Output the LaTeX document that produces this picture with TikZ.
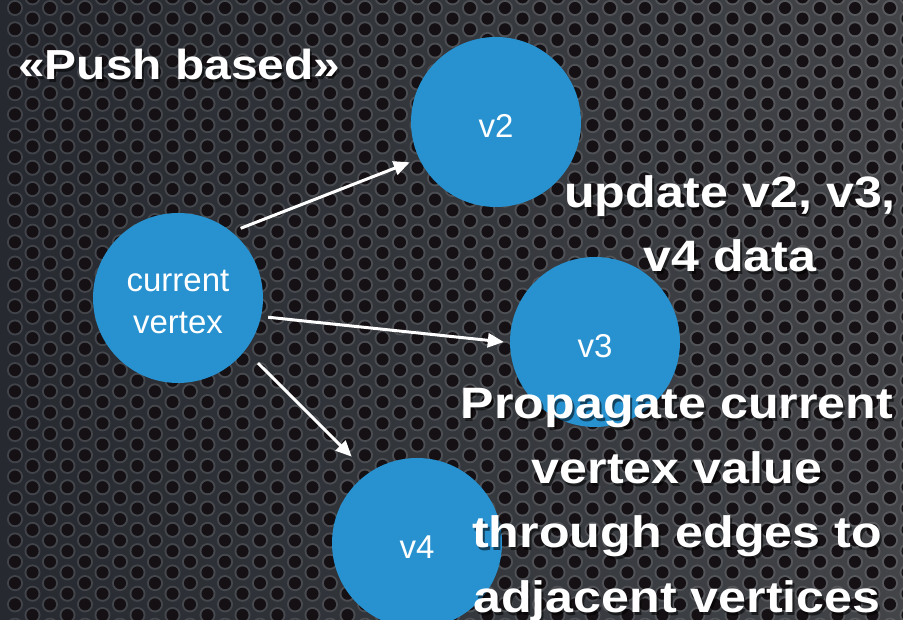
\documentclass[tikz,border=0pt]{standalone}
\usepackage{fontspec}
\setmainfont{Liberation Sans}
\newfontfamily\headfont{Liberation Sans Bold}[FakeStretch=1.14]
\usetikzlibrary{arrows.meta}
\definecolor{vblue}{RGB}{40,146,208}
\definecolor{holec}{RGB}{21,16,19}
\definecolor{metalL}{RGB}{38,42,48}
\definecolor{metalR}{RGB}{66,68,72}
\begin{document}
\begin{tikzpicture}[x=1pt,y=1pt,
  vertex/.style={circle, fill=vblue, minimum size=170pt, inner sep=0pt,
    text=white, align=center, text height=32pt,
    font=\fontsize{33}{42}\selectfont},
  edge/.style={white, line width=3pt, -{Triangle[length=16pt,width=14pt]}},
  headline/.style={text=white, align=center, inner sep=0pt,
    font=\headfont\fontsize{44}{64.5}\selectfont},
  headshadow/.style={headline, text=black, opacity=0.55},
  titlefont/.style={font=\headfont\fontsize{42}{48}\selectfont},
  rim/.style={white, opacity=0.12, line width=2pt},
  hole/.style={fill=holec},
]
\useasboundingbox (0,0) rectangle (903,620);

% perforated metal plate
\shade[left color=metalL, right color=metalR] (0,0) rectangle (903,620);
\foreach \k in {0,...,52} {
  \foreach \j in {-1,...,30} {
    \pgfmathsetmacro\hx{15+17.5*\k}
    \pgfmathsetmacro\hy{612-21.3*\j-10.65*mod(\k,2)}
    \draw[rim] (\hx,\hy) circle (7pt);
    \fill[hole] (\hx,\hy) circle (6pt);
  }
}

% vertices
\node[vertex, text height=72pt] (cur) at (178,322) {current\\vertex};
\node[vertex] (v2) at (496,498) {v2};
\node[vertex] (v3) at (595,278) {v3};
\node[vertex] (v4) at (417,77) {v4};

% pushed edges
\draw[edge] ([shift={(48.5:8.5pt)}]cur.48.5) -- ([shift={(205.5:10pt)}]v2.205.5);
\draw[edge] ([shift={(-12.5:7pt)}]cur.-12.5) -- ([shift={(180:6pt)}]v3.180);
\draw[edge] ([shift={(-39.9:18pt)}]cur.-39.9) -- ([shift={(127.5:23pt)}]v4.127.5);

% captions
\node[headshadow, titlefont, anchor=base west] (titleS) at (20,537) {«Push based»};
\node[headline, titlefont, anchor=base west] (title) at (18,540) {«Push based»};
\node[headshadow, anchor=north] (updS) at (732,442) {update v2, v3,\\v4 data};
\node[headline, anchor=north] (upd) at (730,445) {update v2, v3,\\v4 data};
\node[headshadow, anchor=north] (propS) at (679,228.5) {Propagate current\\vertex value\\through edges to\\adjacent vertices};
\node[headline, anchor=north] (prop) at (677,231.5) {Propagate current\\vertex value\\through edges to\\adjacent vertices};
\end{tikzpicture}
\end{document}
